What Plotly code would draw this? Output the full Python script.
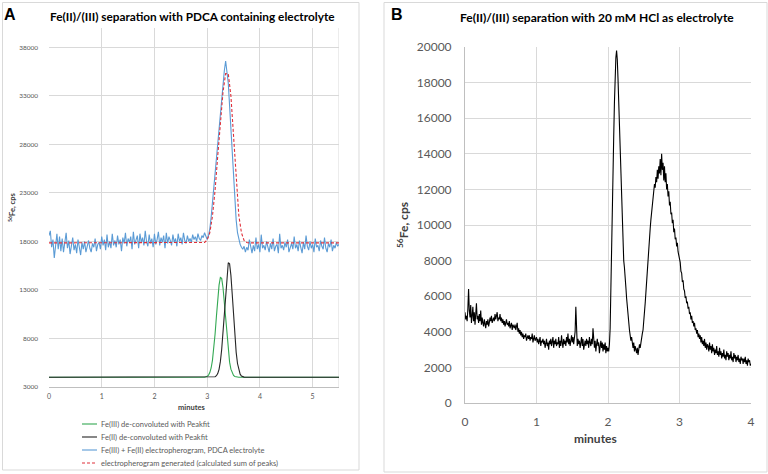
import plotly.graph_objects as go

# ---------------- Panel A data ----------------
# Blue: measured electropherogram, sampled every 0.025 min from 0 to 5.5
blue_step = 0.025
blue_y = [
    18600, 19100, 17400, 18200, 16300, 17900, 18800, 17200, 18500, 17000,
    18300, 16900, 17800, 18900, 17300, 18100, 16700, 17600, 18400, 17100,
    17700, 16800, 18200, 17400, 16600, 17900, 17200, 18000, 16900, 17500,
    18100, 17300, 16900, 17800, 17400, 18300, 17000, 17700, 17900, 17200,
    18500, 17600, 18200, 17100, 18700, 17400, 18000, 17300, 18800, 17600,
    18100, 17400, 18600, 17700, 18200, 17000, 18400, 17800, 18900, 17500,
    18300, 17900, 18500, 17200, 19000, 17700, 18100, 18600, 17300, 18800,
    17900, 18400, 17600, 19100, 18000, 17500, 18700, 17800, 18300, 17400,
    18800, 17700, 18200, 19000, 17600, 18400, 17900, 18600, 17300, 18900,
    17800, 18500, 18100, 17600, 18700, 17900, 18300, 17500, 18800, 18000,
    18400, 17700, 18900, 18100, 17800, 18600, 18000, 18300, 17900, 18700,
    18200, 18500, 18000, 18800, 18300, 18100, 18600, 18400, 18900, 18500,
    # peak 3.000 - 3.650
    18200, 18600, 19300, 20500, 22000, 23600, 25200, 27000, 28800, 29800,
    31000, 32600, 34200, 35600, 36600, 35200, 34300, 32000, 29500, 26800,
    24500, 22100, 20200, 18900, 18200, 17700, 17400,
    # baseline after peak 3.675 - 5.5
    17200, 17500, 16900, 17400, 17100, 18200, 17300, 16800, 17600, 17000,
    18400, 17200, 17700, 16900, 18700, 17300, 17600, 17100, 18000, 17400,
    16900, 17800, 17200, 18300, 17000, 17500, 17700, 16800, 18800, 17300,
    17600, 17100, 17900, 17400, 18200, 16900, 17500, 17800, 17200, 18500,
    17300, 17700, 17000, 18100, 17400, 16800, 17900, 17200, 18600, 17500,
    17100, 18000, 17300, 17700, 16900, 18300, 17400, 17600, 17000, 18100,
    17500, 17200, 18400, 17300, 16900, 17800, 17400, 18200, 17000, 17600,
    17300, 17900, 17500, 17700,
]
blue_x = [round(i * blue_step, 3) for i in range(len(blue_y))]

# Red dashed: generated electropherogram (sum of peaks)
red_x = [0, 2.9, 2.95, 3.0, 3.05, 3.1, 3.15, 3.2, 3.25, 3.3, 3.35, 3.4,
         3.45, 3.5, 3.55, 3.6, 3.65, 3.7, 3.75, 3.8, 5.5]
red_y = [17850, 17850, 17900, 18150, 18900, 20600, 23300, 26800, 30300, 33400,
         35300, 35300, 33000, 28600, 24100, 20700, 18900, 18100, 17900, 17850, 17850]

# Green: Fe(III) de-convoluted
green_x = [0, 2.95, 3.0, 3.025, 3.05, 3.075, 3.1, 3.125, 3.15, 3.175, 3.2, 3.225,
           3.25, 3.275, 3.3, 3.325, 3.35, 3.375, 3.4, 3.425, 3.45, 3.475, 3.5,
           3.525, 3.55, 3.6, 5.5]
green_y = [4000, 4010, 4100, 4230, 4490, 4960, 5750, 6920, 8470, 10260, 12060, 13500,
           14280, 14190, 13260, 11720, 9900, 8130, 6650, 5560, 4840, 4420, 4190,
           4080, 4030, 4000, 4000]

# Black: Fe(II) de-convoluted
black_x = [0, 3.1, 3.15, 3.175, 3.2, 3.225, 3.25, 3.275, 3.3, 3.325, 3.35, 3.375,
           3.4, 3.425, 3.45, 3.475, 3.5, 3.525, 3.55, 3.575, 3.6, 3.625, 3.65,
           3.7, 3.75, 5.5]
black_y = [4000, 4010, 4060, 4160, 4380, 4820, 5610, 6870, 8630, 10770, 12990, 14820,
           15810, 15690, 14500, 12560, 10320, 8240, 6570, 5420, 4710, 4320, 4130,
           4020, 4000, 4000]

a_yticks = [3000, 8000, 13000, 18000, 23000, 28000, 33000, 38000]
a_xticks = [0, 1, 2, 3, 4, 5]

legend_names = [
    "Fe(III) de-convoluted with Peakfit",
    "Fe(II) de-convoluted with Peakfit",
    "Fe(III) + Fe(II) electropherogram, PDCA electrolyte",
    "electropherogram generated (calculated sum of peaks)",
]

# ---------------- Panel B data ----------------
b_step = 0.01
b_y = [
    5100, 4700, 4900, 4600, 5300, 6400, 5200, 4800, 5500, 4500,
    4900, 5400, 4600, 5100, 4400, 5000, 5600, 4700, 4900, 4500,
    5000, 4600, 5200, 4400, 4800, 4500, 4300, 4700, 4500, 4200,
    4600, 4400, 4700, 4300, 4500, 4800, 4600, 4900, 4500, 4700,
    4800, 4600, 5000, 4700, 4900, 5100, 4600, 4800, 4700, 5000,
    4600, 4800, 4500, 4700, 4400, 4600, 4300, 4500, 4700, 4400,
    4500, 4300, 4600, 4200, 4400, 4500, 4100, 4400, 4300, 4200,
    4400, 4100, 4300, 4500, 4000, 4200, 3900, 4100, 3800, 4000,
    3700, 3900, 3600, 3800, 3700, 3900, 3500, 3700, 3800, 3600,
    3800, 3500, 3700, 3600, 3900, 3400, 3600, 3800, 3500, 3600,
    3700, 3400, 3600, 3300, 3500, 3700, 3200, 3500, 3400, 3600,
    3300, 3500, 3100, 3400, 3600, 3200, 3400, 3000, 3500, 3300,
    3600, 3200, 3400, 3700, 3100, 3500, 3300, 3600, 3200, 3400,
    3300, 3700, 3100, 3500, 3200, 3800, 3400, 3100, 3600, 3300,
    3500, 3200, 3700, 3400, 3900, 3300, 3600, 3200, 3500, 3800,
    3400, 3700, 3300, 3600, 4000, 5400, 3500, 3200, 3600, 3300,
    3500, 3100, 3400, 3700, 3200, 3600, 3000, 3400, 3500, 3200,
    3600, 3300, 3500, 3100, 3700, 3400, 3200, 3600, 3300, 4200,
    3400, 3100, 3500, 2900, 3300, 3600, 3200, 3400, 2800, 3300,
    3500, 3100, 3400, 2900, 3300, 3000, 3400, 2800, 3200, 2900,
    3100, 2900, 3300, 4200, 6000, 8200, 10500, 12800, 15000, 16900,
    18500, 19400, 19800, 19300, 18200, 16800, 15300, 13700, 12200, 10800,
    9600, 8800, 8000, 7600, 7200, 6500, 5900, 5300, 4800, 4400,
    4100, 3800, 3500, 3700, 3300, 3100, 3400, 2900, 3200, 3000,
    2800, 3100, 2700, 3000, 3300, 3100, 3500, 3600, 3900, 4100,
    4500, 5000, 5600, 6200, 6900, 7500, 8000, 8700, 9300, 9800,
    10300, 10800, 11200, 11500, 11900, 12300, 12100, 12700, 12400, 13100,
    12600, 13300, 12900, 13700, 12800, 14000, 13100, 13500, 12500, 13300,
    12400, 12900, 12000, 12300, 11600, 11900, 11100, 11300, 10600, 10700,
    10100, 10300, 9600, 9800, 9200, 9300, 8800, 9000, 8500, 8300,
    8000, 7900, 7400, 7300, 6800, 6900, 6400, 6300, 5900, 6000,
    5600, 5700, 5300, 5400, 5000, 5100, 4700, 4900, 4500, 4600,
    4300, 4500, 4100, 4200, 3900, 4100, 3700, 3900, 3600, 3800,
    3400, 3700, 3300, 3500, 3200, 3600, 3100, 3400, 3000, 3300,
    3200, 2900, 3400, 3000, 3200, 2800, 3300, 2900, 3100, 2700,
    3000, 2800, 3200, 2700, 2900, 2600, 3100, 2700, 2900, 2500,
    2800, 2600, 3000, 2500, 2700, 2400, 2900, 2600, 2800, 2400,
    2700, 2500, 2900, 2400, 2600, 2300, 2800, 2500, 2700, 2300,
    2600, 2400, 2700, 2300, 2500, 2200, 2600, 2400, 2500, 2200,
    2500, 2300, 2600, 2200, 2400, 2100, 2500, 2300, 2400, 2100,
    2200,
]
b_x = [round(i * b_step, 2) for i in range(len(b_y))]

# ---------------- Figure ----------------
FONT = "Lato"
GRID = "#d9d9d9"
TICK = "#595959"

styles = [
    dict(color="#33a853", width=1.1),
    dict(color="#262626", width=1.1),
    dict(color="#5b9bd5", width=1.1),
    dict(color="#e0303a", width=1.1, dash="3px,2px"),
]

fig = go.Figure()
fig.add_trace(go.Scatter(x=green_x, y=green_y, mode="lines", name=legend_names[0],
                         line=styles[0], xaxis="x", yaxis="y"))
fig.add_trace(go.Scatter(x=black_x, y=black_y, mode="lines", name=legend_names[1],
                         line=styles[1], xaxis="x", yaxis="y"))
fig.add_trace(go.Scatter(x=blue_x, y=blue_y, mode="lines", name=legend_names[2],
                         line=styles[2], xaxis="x", yaxis="y"))
fig.add_trace(go.Scatter(x=red_x, y=red_y, mode="lines", name=legend_names[3],
                         line=styles[3], xaxis="x", yaxis="y"))
fig.add_trace(go.Scatter(x=b_x, y=b_y, mode="lines", name="HCl electrolyte",
                         line=dict(color="#000000", width=1.1), xaxis="x2", yaxis="y2"))

W, H = 768, 474
def px(x):
    return x / W
def py(y):
    return 1 - y / H

fig.update_layout(
    width=W, height=H,
    margin=dict(l=0, r=0, t=0, b=0, pad=0, autoexpand=False),
    paper_bgcolor="white", plot_bgcolor="white",
    font=dict(family=FONT, color=TICK),
    showlegend=False,
    xaxis=dict(domain=[px(49), px(339)], range=[0, 5.5], tickvals=a_xticks,
               automargin=False,
               showgrid=True, gridcolor=GRID, gridwidth=1, zeroline=False,
               showline=True, linecolor="#bfbfbf", linewidth=1,
               tickfont=dict(size=7, color=TICK), ticks="", ticklabelstandoff=3,
               anchor="y"),
    yaxis=dict(domain=[py(387), py(28)], range=[3000, 40000], tickvals=a_yticks,
               tickformat="d", automargin=False,
               showgrid=True, gridcolor=GRID, gridwidth=1, zeroline=False,
               showline=False, tickfont=dict(size=6.5, color=TICK), ticks="",
               ticklabelstandoff=10, anchor="x"),
    xaxis2=dict(domain=[px(465), px(751)], range=[0, 4], dtick=1,
                automargin=False,
                showgrid=True, gridcolor=GRID, gridwidth=1, zeroline=False,
                showline=True, linecolor="#bfbfbf", linewidth=1,
                tickfont=dict(size=12, color=TICK), ticks="", ticklabelstandoff=8,
                anchor="y2"),
    yaxis2=dict(domain=[py(403), py(47)], range=[0, 20000], dtick=2000,
                tickformat="d", automargin=False,
                showgrid=True, gridcolor=GRID, gridwidth=1, zeroline=False,
                showline=True, linecolor="#bfbfbf", linewidth=1,
                tickfont=dict(size=12, color=TICK), ticks="", ticklabelstandoff=10,
                anchor="x2"),
)

shapes = [
    # panel borders
    dict(type="rect", xref="paper", yref="paper", x0=px(2.5), x1=px(359), y0=py(470), y1=py(2.5),
         line=dict(color="#d9d9d9", width=1), fillcolor="rgba(0,0,0,0)", layer="below"),
    dict(type="rect", xref="paper", yref="paper", x0=px(384), x1=px(767), y0=py(472), y1=py(2.5),
         line=dict(color="#d9d9d9", width=1), fillcolor="rgba(0,0,0,0)", layer="below"),
    # right edge line of panel A plot area
    dict(type="line", xref="x", yref="paper", x0=5.5, x1=5.5, y0=py(387), y1=py(28),
         line=dict(color=GRID, width=1), layer="below"),
]

ann = [
    dict(text="<b>A</b>", x=px(10), y=py(15), font=dict(size=16, color="#000000", family="Liberation Sans")),
    dict(text="<b>Fe(II)/(III) separation with PDCA containing electrolyte</b>", x=px(192), y=py(16),
         font=dict(size=11.8, color="#000000")),
    dict(text="<b>minutes</b>", x=px(191), y=py(407), font=dict(size=7.5, color="#404040")),
    dict(text="<b><sup>56</sup>Fe, cps</b>", x=px(12), y=py(208), textangle=-90,
         font=dict(size=7.5, color="#404040")),
    dict(text="<b>B</b>", x=px(397), y=py(15), font=dict(size=16, color="#000000", family="Liberation Sans")),
    dict(text="<b>Fe(II)/(III) separation with 20 mM HCl as electrolyte</b>", x=px(597), y=py(17),
         font=dict(size=12, color="#000000")),
    dict(text="<b>minutes</b>", x=px(595), y=py(438), font=dict(size=12, color="#404040")),
    dict(text="<b><sup>56</sup>Fe, cps</b>", x=px(403), y=py(225), textangle=-90,
         font=dict(size=12, color="#404040")),
]
for a in ann:
    a.update(xanchor="center")

# hand-built compact legend for panel A (line samples + labels)
leg_rows = [424, 437, 450, 463]
for name, st, yy in zip(legend_names, styles, leg_rows):
    shapes.append(dict(type="line", xref="paper", yref="paper", x0=px(82), x1=px(97),
                       y0=py(yy), y1=py(yy), line=st))
    ann.append(dict(text=name, x=px(99), y=py(yy), xanchor="left",
                    font=dict(size=7.5, color=TICK)))

for a in ann:
    a.update(xref="paper", yref="paper", showarrow=False, yanchor="middle")

fig.update_layout(shapes=shapes, annotations=ann)

fig.write_html("out.html",
               config={"displayModeBar": False},
               post_script="document.body.style.margin='0';document.body.style.overflow='hidden';")
